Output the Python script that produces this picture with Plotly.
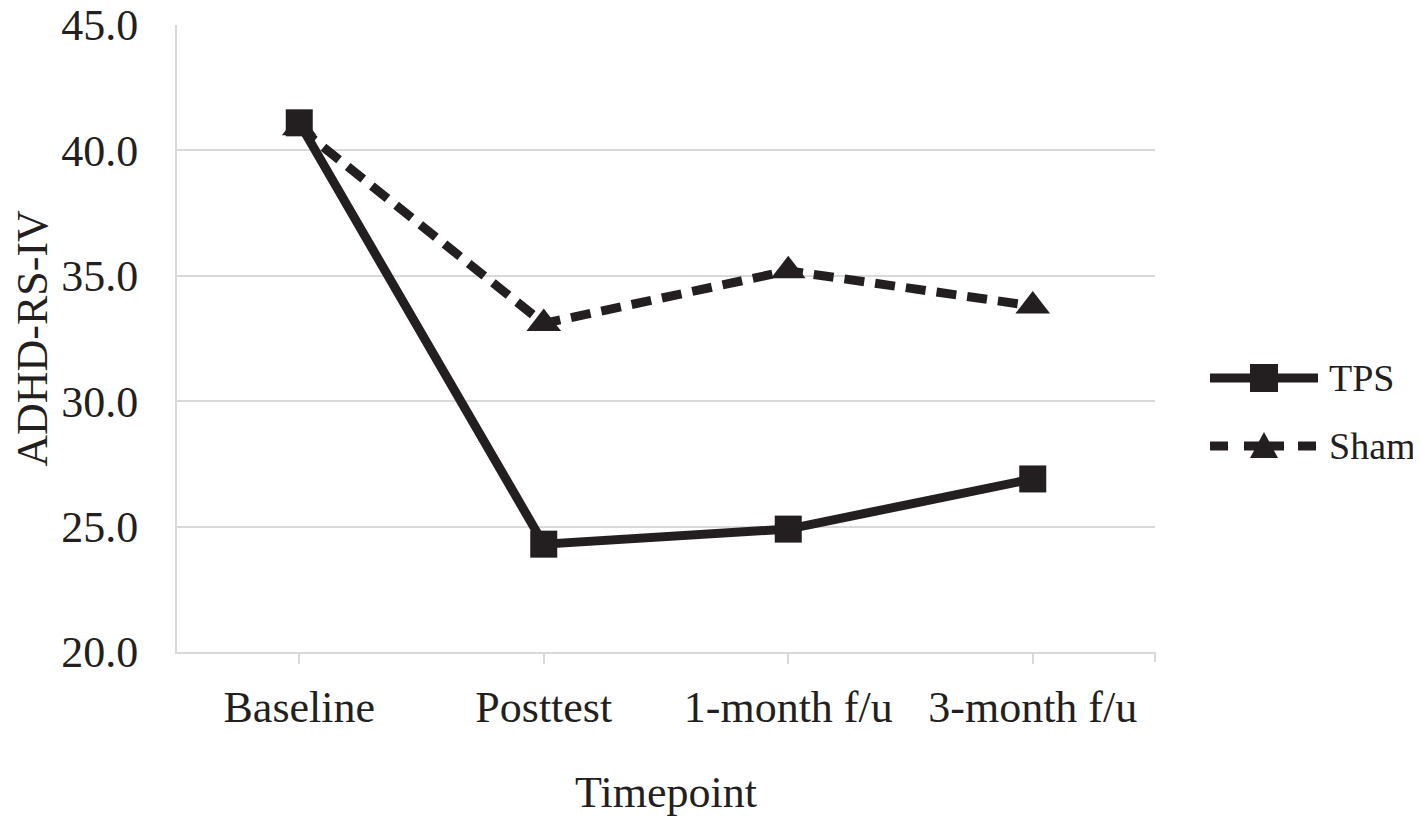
import plotly.graph_objects as go

# =====================
# DATA
# =====================
timepoints = ["Baseline", "Posttest", "1-month f/u", "3-month f/u"]
tps_scores = [41.1, 24.3, 24.9, 26.9]
sham_scores = [40.9, 33.1, 35.2, 33.8]
y_ticks = [20, 25, 30, 35, 40, 45]
series_names = ["TPS", "Sham"]

# =====================
# Style / layout settings
# =====================
ink = "#231f20"
grid = "#d9d9d9"
serif = "Liberation Serif, Times New Roman, serif"

# the page puts the figure 8px in from the top-left corner,
# so the figure is made 8px smaller and margins are shifted
PAGE_OFF = 8
W, H = 1421 - PAGE_OFF, 817 - PAGE_OFF
ML, MT, MR, MB = 177 - PAGE_OFF, 25 - PAGE_OFF, 274 - PAGE_OFF, 165
PW, PH = W - ML - MR, H - MT - MB


def px_x(px):
    # page pixel -> paper x
    return (px - PAGE_OFF - ML) / PW


def px_y(py):
    # page pixel -> paper y
    return (PAGE_OFF + MT + PH - py) / PH


fig = go.Figure()

fig.add_trace(go.Scatter(
    x=timepoints, y=tps_scores, name=series_names[0],
    mode="lines+markers",
    line=dict(color=ink, width=9),
    marker=dict(symbol="square", size=27, color=ink),
    showlegend=False,
))

fig.add_trace(go.Scatter(
    x=timepoints, y=sham_scores, name=series_names[1],
    mode="lines+markers",
    line=dict(color=ink, width=9, dash="20px,11px"),
    marker=dict(symbol="triangle-up", size=30, color=ink),
    showlegend=False,
))

fig.update_layout(
    width=W, height=H,
    plot_bgcolor="white", paper_bgcolor="white",
    font=dict(family=serif, size=44, color=ink),
    margin=dict(l=ML, r=MR, t=MT, b=MB, autoexpand=False),
    showlegend=False,
)

fig.update_xaxes(
    type="category", range=[-0.5, 3.5],
    showgrid=False, showline=True, linecolor=grid, linewidth=2,
    ticks="outside", ticklen=10, tickcolor=grid, tickwidth=2,
    ticklabelstandoff=5, tickfont=dict(size=44), automargin=False,
    title=dict(text="Timepoint", font=dict(size=44), standoff=46),
)

fig.update_yaxes(
    range=[20, 45], tickvals=y_ticks, tickformat=".1f",
    showgrid=True, gridcolor=grid, gridwidth=2,
    showline=True, linecolor=grid, linewidth=2,
    ticks="", ticklabelstandoff=28, ticklabeloverflow="allow",
    tickfont=dict(size=44), zeroline=False, automargin=True,
    title=dict(text="ADHD-RS-IV", font=dict(size=44), standoff=24),
)

# tick at right end of the category axis
fig.add_shape(type="line", xref="paper", yref="paper",
              x0=1, x1=1, y0=0, y1=-10 / PH,
              line=dict(color=grid, width=2))

# =====================
# Legend (drawn by hand, Excel style: long line with marker in the middle)
# =====================
leg_x0, leg_x1, leg_mid, leg_text = 1210, 1318, 1264, 1327
leg_y = [378, 446]

# TPS: solid line + square
fig.add_shape(type="line", xref="paper", yref="paper",
              x0=px_x(leg_x0), x1=px_x(leg_x1), y0=px_y(leg_y[0]), y1=px_y(leg_y[0]),
              line=dict(color=ink, width=9))
fig.add_shape(type="rect", xref="paper", yref="paper",
              xsizemode="pixel", ysizemode="pixel",
              xanchor=px_x(leg_mid), yanchor=px_y(leg_y[0]),
              x0=-14, x1=14, y0=-14, y1=14,
              fillcolor=ink, line=dict(width=0))

# Sham: dashes + triangle
for a, b in [(1210, 1228), (1244, 1284), (1298, 1316)]:
    fig.add_shape(type="line", xref="paper", yref="paper",
                  x0=px_x(a), x1=px_x(b), y0=px_y(leg_y[1]), y1=px_y(leg_y[1]),
                  line=dict(color=ink, width=9))
fig.add_shape(type="path", xref="paper", yref="paper",
              xsizemode="pixel", ysizemode="pixel",
              xanchor=px_x(leg_mid), yanchor=px_y(leg_y[1]),
              path="M -14 -12 L 14 -12 L 0 14 Z",
              fillcolor=ink, line=dict(width=0))

for name, yy in zip(series_names, leg_y):
    fig.add_annotation(x=px_x(leg_text), y=px_y(yy), xref="paper", yref="paper",
                       text=name, showarrow=False, xanchor="left", yanchor="middle",
                       font=dict(size=38, family=serif, color=ink))

fig.write_html("out.html")
